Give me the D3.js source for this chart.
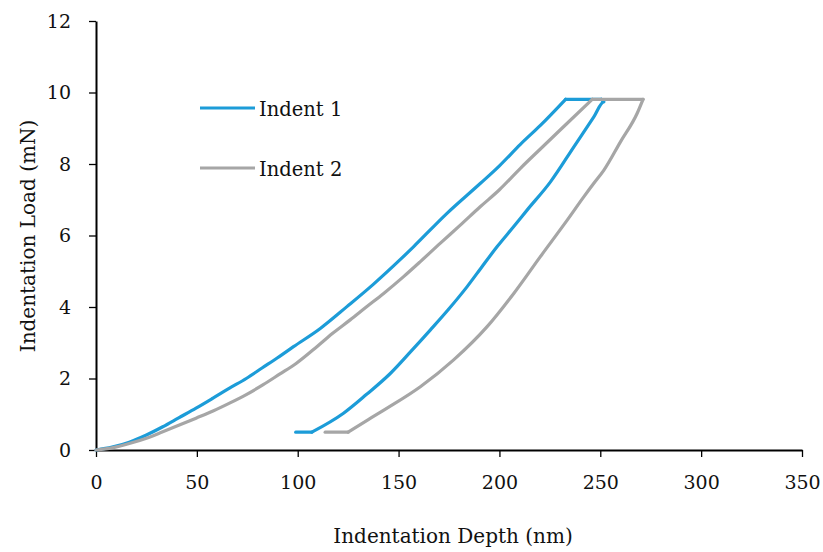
<!DOCTYPE html>
<html>
<head>
<meta charset="utf-8">
<script src="https://cdn.jsdelivr.net/npm/d3@7"></script>
<style>
  body { margin: 0; background: #fff; }
  svg text { font-family: "DejaVu Serif", serif; fill: #111; }
</style>
</head>
<body>
<div id="chart"></div>
<script>
// data
var xTicks = [0, 50, 100, 150, 200, 250, 300, 350]
var yTicks = [0, 2, 4, 6, 8, 10, 12]
var seriesNames = ['Indent 1', 'Indent 2']
var seriesColors = ['#1c9cd8', '#a6a6a6']

// loading, hold at max load, unloading, hold at min load
var depth1 = [0, 8, 16.5, 25, 33.1, 41, 49.6, 58, 66.2, 74.5, 82.5, 90, 97.9, 111.2, 124.4, 137.6, 150.9, 157.5, 174, 190.6, 200, 210.4, 220.3, 232.8,
    250.5,
    251.8, 246.8, 236.9, 225.3, 213.7, 207.1, 198.9, 191, 184, 175, 165.8, 156, 145.9, 134, 122.7, 107,
    99]
var load1 = [0, 0.08, 0.22, 0.42, 0.65, 0.9, 1.17, 1.45, 1.73, 2.0, 2.3, 2.58, 2.89, 3.4, 4.01, 4.64, 5.33, 5.69, 6.62, 7.46, 7.95, 8.55, 9.08, 9.81,
    9.81,
    9.74, 9.32, 8.48, 7.5, 6.71, 6.25, 5.69, 5.1, 4.57, 3.95, 3.36, 2.75, 2.14, 1.55, 1.03, 0.5,
    0.5]

var depth2 = [0, 8, 16.5, 25, 33.1, 41, 49.6, 58, 66.2, 74.5, 82.7, 91, 99.2, 109.5, 117, 126, 134, 142.6, 152.5, 160.8, 170.6, 180.6, 190.6, 200, 210.4, 220.3, 233.6, 246,
    271.2,
    268.3, 260, 251.8, 246.8, 241.8, 233.6, 220.3, 207.1, 193.9, 177.3, 160.8, 144.3, 135, 125,
    113.6]
var load2 = [0, 0.06, 0.18, 0.33, 0.51, 0.69, 0.89, 1.09, 1.31, 1.55, 1.82, 2.12, 2.42, 2.89, 3.25, 3.64, 4.0, 4.38, 4.85, 5.27, 5.78, 6.29, 6.81, 7.28, 7.88, 8.42, 9.14, 9.81,
    9.81,
    9.42, 8.62, 7.83, 7.46, 7.08, 6.43, 5.41, 4.38, 3.45, 2.52, 1.77, 1.17, 0.85, 0.5,
    0.5]

var series = [
    depth1.map((d, i) => [d, load1[i]]),
    depth2.map((d, i) => [d, load2[i]])
]

// svg
var w = 823,
    h = 552

var svg = d3.select('#chart')
    .append('svg')
    .attr('width', w)
    .attr('height', h)

// scales
var x = d3.scaleLinear().domain([0, 350]).range([96, 802])
var y = d3.scaleLinear().domain([0, 12]).range([450, 21])

// axes
var xaxis = d3.axisBottom(x)
    .tickValues(xTicks)
    .tickSize(7)
    .tickSizeOuter(0)
    .tickPadding(19)

var yaxis = d3.axisLeft(y)
    .tickValues(yTicks)
    .tickSize(7)
    .tickSizeOuter(0)
    .tickPadding(18)

var gx = svg.append('g')
    .attr('transform', `translate(0,${y(0)})`)
    .call(xaxis)

var gy = svg.append('g')
    .attr('transform', `translate(${x(0)},0)`)
    .call(yaxis)

;[gx, gy].forEach(g => {
    g.select('.domain').attr('stroke', '#000').attr('stroke-width', 2)
    g.selectAll('.tick line').attr('stroke', '#000').attr('stroke-width', 1.3)
    g.selectAll('.tick text').attr('font-size', 19).attr('fill', '#111')
        .style('font-family', '"DejaVu Serif", serif')
})

// lines: split each curve into loading / hold / unloading / tail so the
// smoothing never rounds the corners
var line = d3.line()
    .x(d => x(d[0]))
    .y(d => y(d[1]))
    .curve(d3.curveMonotoneX)

var pieces = []
series.forEach((s, k) => {
    var maxLoad = d3.max(s, d => d[1])
    var a = s.findIndex(d => d[1] === maxLoad)
    var b = a
    while (b + 1 < s.length && s[b + 1][1] === maxLoad) b++
    var c = s.length - 1
    while (c - 1 > b && s[c - 1][1] === s[s.length - 1][1]) c--
    pieces.push({ k: k, pts: s.slice(0, a + 1) })
    pieces.push({ k: k, pts: s.slice(a, b + 1) })
    pieces.push({ k: k, pts: s.slice(b, c + 1) })
    pieces.push({ k: k, pts: s.slice(c) })
})

svg.selectAll('path.series')
    .data(pieces)
    .enter()
    .append('path')
    .attr('class', 'series')
    .attr('d', d => line(d.pts))
    .attr('fill', 'none')
    .attr('stroke', d => seriesColors[d.k])
    .attr('stroke-width', 3.2)
    .attr('stroke-linejoin', 'round')
    .attr('stroke-linecap', 'round')

// legend
var lg = svg.selectAll('g.legend')
    .data(seriesNames)
    .enter()
    .append('g')
    .attr('class', 'legend')
    .attr('transform', (d, i) => `translate(200,${108 + i * 60})`)

lg.append('line')
    .attr('x1', 0)
    .attr('x2', 55)
    .attr('stroke', (d, i) => seriesColors[i])
    .attr('stroke-width', 3.2)

lg.append('text')
    .attr('x', 59)
    .attr('y', 8)
    .attr('font-size', 19.5)
    .text(d => d)

// axis titles
svg.append('text')
    .attr('x', 453)
    .attr('y', 543)
    .attr('text-anchor', 'middle')
    .attr('font-size', 20)
    .text('Indentation Depth (nm)')

svg.append('text')
    .attr('transform', 'translate(35,236) rotate(-90)')
    .attr('text-anchor', 'middle')
    .attr('font-size', 20)
    .text('Indentation Load (mN)')
</script>
</body>
</html>
